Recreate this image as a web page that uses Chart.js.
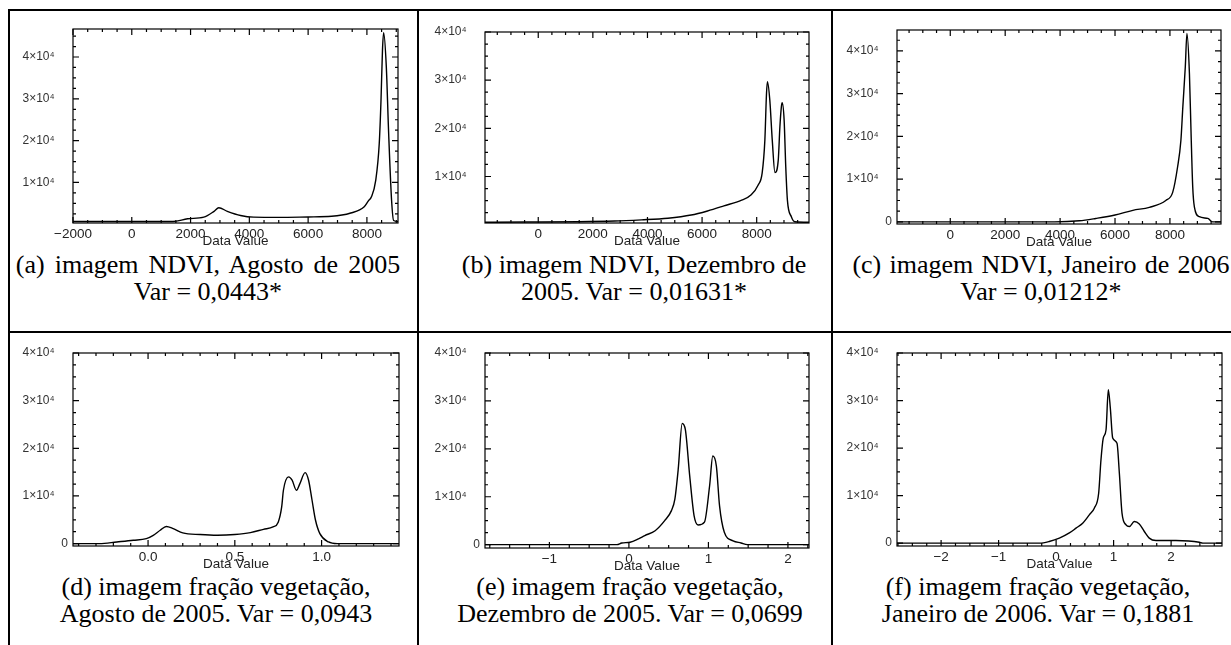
<!DOCTYPE html>
<html>
<head>
<meta charset="utf-8">
<script src="https://cdn.jsdelivr.net/npm/chart.js@4.4.1/dist/chart.umd.min.js"></script>
<style>
  html, body { margin: 0; padding: 0; background: #fff; }
  body { position: relative; width: 1231px; height: 645px; overflow: hidden; }
  .rule { position: absolute; background: #000; }
  canvas { position: absolute; }
  .cap {
    position: absolute; width: 440px; text-align: center; white-space: nowrap;
    font-family: "Liberation Serif", "Times New Roman", serif;
    font-size: 26px; line-height: 27px; color: #000;
  }
</style>
</head>
<body>
<div class="rule" style="left:8px;top:9px;width:2px;height:636px"></div>
<div class="rule" style="left:8px;top:9px;width:1223px;height:2px"></div>
<div class="rule" style="left:417px;top:9px;width:2px;height:636px"></div>
<div class="rule" style="left:831px;top:9px;width:2px;height:636px"></div>
<div class="rule" style="left:8px;top:331px;width:1223px;height:2px"></div>

<div class="cap" style="left:-12px;top:251px"><span style="word-spacing:3.5px">(a) imagem NDVI, Agosto de 2005</span><br>Var = 0,0443*</div>
<div class="cap" style="left:414px;top:251px">(b) imagem NDVI, Dezembro de<br>2005. Var = 0,01631*</div>
<div class="cap" style="left:821px;top:251px"><span style="word-spacing:1.8px">(c) imagem NDVI, Janeiro de 2006</span><br>Var = 0,01212*</div>
<div class="cap" style="left:-4px;top:573px">(d) imagem fração vegetação,<br>Agosto de 2005. Var = 0,0943</div>
<div class="cap" style="left:410px;top:573px">(e) imagem fração vegetação,<br>Dezembro de 2005. Var = 0,0699</div>
<div class="cap" style="left:818px;top:573px">(f) imagem fração vegetação,<br>Janeiro de 2006. Var = 0,1881</div>

<script>
// (a) NDVI, agosto 2005
const ndviAgoX = [-2000, 1400, 1900, 2450, 2800, 2960, 3250, 3700, 4150, 5000, 6000, 6800, 7450, 7900, 8050, 8150, 8300, 8420, 8480, 8530, 8570, 8660, 8740, 8840, 8910, 9058];
const ndviAgoY = [650, 650, 1300, 1700, 3100, 3950, 3100, 2100, 1700, 1650, 1750, 1900, 2700, 4100, 5600, 6500, 10500, 19300, 29700, 41700, 45800, 37700, 21700, 5700, 900, 650];

// (b) NDVI, dezembro 2005
const ndviDezX = [-1950, 2800, 3780, 4750, 5600, 6200, 6800, 7450, 7800, 8050, 8200, 8300, 8360, 8395, 8480, 8570, 8670, 8790, 8850, 8905, 8935, 9005, 9065, 9125, 9270, 9400, 9916];
const ndviDezY = [500, 750, 1000, 1350, 2000, 2850, 3900, 5100, 6200, 8200, 10700, 17600, 27300, 29700, 25900, 17600, 10800, 13400, 20300, 24500, 25300, 21700, 12000, 5100, 1650, 600, 500];

// (c) NDVI, janeiro 2006
const ndviJanX = [-1940, 3800, 4700, 5300, 6000, 6650, 7250, 7850, 8100, 8280, 8400, 8470, 8560, 8620, 8710, 8770, 8830, 8890, 9070, 9380, 9560, 9860];
const ndviJanY = [0, 0, 250, 800, 1600, 2700, 3400, 5000, 6900, 12900, 19100, 26900, 36300, 44100, 34700, 20700, 8200, 3500, 1200, 800, 0, 0];

// (d) fração vegetação, agosto 2005
const vegAgoX = [-0.4325, -0.28, -0.18, -0.085, -0.01, 0.03, 0.07, 0.105, 0.145, 0.2, 0.3, 0.4, 0.5, 0.59, 0.665, 0.72, 0.75, 0.77, 0.78, 0.81, 0.83, 0.855, 0.875, 0.905, 0.925, 0.945, 0.965, 0.99, 1.04, 1.09, 1.446];
const vegAgoY = [0, 0, 350, 700, 1050, 1750, 2800, 3600, 3150, 2250, 1900, 1750, 1900, 2300, 3000, 3500, 4500, 7700, 11200, 14000, 13300, 11200, 12600, 14900, 13300, 9100, 4900, 2100, 350, 0, 0];

// (e) fração vegetação, dezembro 2005
const vegDezX = [-1.81, -0.15, -0.09, 0.015, 0.12, 0.2, 0.33, 0.45, 0.535, 0.578, 0.62, 0.67, 0.71, 0.765, 0.82, 0.87, 0.95, 1.015, 1.055, 1.1, 1.14, 1.2, 1.31, 1.41, 1.49, 2.265];
const vegDezY = [0, 0, 350, 500, 1200, 1900, 2900, 5000, 7100, 9500, 15700, 25300, 24000, 14300, 6000, 4100, 4700, 12300, 18500, 16400, 8100, 2600, 800, 350, 0, 0];

// (f) fração vegetação, janeiro 2006
const vegJanX = [-2.767, -0.29, -0.12, 0.056, 0.23, 0.346, 0.462, 0.577, 0.664, 0.74, 0.78, 0.82, 0.868, 0.908, 0.943, 0.984, 1.059, 1.1, 1.146, 1.216, 1.273, 1.36, 1.447, 1.534, 1.62, 1.737, 2.085, 2.49, 2.55, 2.885];
const vegJanY = [0, 0, 350, 1050, 2150, 3150, 4200, 5950, 7350, 10500, 17500, 22100, 23800, 32300, 28400, 22100, 21000, 14700, 6300, 3850, 3500, 4550, 4050, 2450, 1050, 550, 550, 200, 0, 0];

// tick labels
const ndviTicks = [-2000, 0, 2000, 4000, 6000, 8000];
const vegAgoTicks = [0, 0.5, 1];
const vegTicks = [-2, -1, 0, 1, 2];
const countTicks = [0, 10000, 20000, 30000, 40000];

const minus = v => (v < 0 ? '\u2212' + Math.abs(v) : String(v));
const fixed1 = v => v.toFixed(1);
const yLabel = v => (v === 0 ? '0' : v / 10000 + '\u00d710\u2074    ');

// IDL style box with minor ticks on all four sides
const frame = {
  id: 'frame',
  afterDraw(chart, args, opts) {
    const { ctx, chartArea: a, scales: { x, y } } = chart;
    ctx.save();
    ctx.strokeStyle = '#000';
    ctx.lineWidth = 1.2;
    ctx.strokeRect(a.left, a.top, a.right - a.left, a.bottom - a.top);
    ctx.beginPath();
    const marks = (scale, step, len, horiz) => {
      for (let i = Math.ceil(scale.min / step - 1e-6); i * step <= scale.max + 1e-9; i++) {
        const p = scale.getPixelForValue(i * step);
        if (horiz) {
          ctx.moveTo(p, a.bottom); ctx.lineTo(p, a.bottom - len);
          ctx.moveTo(p, a.top); ctx.lineTo(p, a.top + len);
        } else {
          ctx.moveTo(a.left, p); ctx.lineTo(a.left + len, p);
          ctx.moveTo(a.right, p); ctx.lineTo(a.right - len, p);
        }
      }
    };
    marks(x, opts.xMinor, 3, true);
    marks(x, opts.xStep, 6, true);
    marks(y, 2500, 3, false);
    marks(y, 10000, 6, false);
    ctx.stroke();
    ctx.restore();
  }
};

const tickFont = { family: 'Liberation Sans', size: 13.5 };

function panel(p) {
  const c = document.createElement('canvas');
  c.width = p.cw;
  c.height = p.ch;
  c.style.left = p.cx + 'px';
  c.style.top = p.cy + 'px';
  document.body.appendChild(c);
  const yTicks = countTicks.filter(v => v >= p.yMin && v <= p.yMax);
  return new Chart(c, {
    type: 'line',
    data: {
      datasets: [{
        data: p.xs.map((x, i) => ({ x, y: p.ys[i] })),
        borderColor: '#000',
        borderWidth: 1.4,
        pointRadius: 0,
        fill: false,
        cubicInterpolationMode: 'monotone'
      }]
    },
    options: {
      responsive: false,
      animation: false,
      devicePixelRatio: 1,
      layout: {
        autoPadding: false,
        padding: { left: 0, top: p.T - p.cy, right: p.cx + p.cw - p.R, bottom: p.cy + p.ch - p.B - 25 }
      },
      plugins: {
        legend: { display: false },
        tooltip: { enabled: false },
        frame: { xStep: p.xStep, xMinor: p.xMinor }
      },
      scales: {
        x: {
          type: 'linear',
          min: p.xMin,
          max: p.xMax,
          grid: { display: false, drawTicks: false },
          border: { display: false },
          afterBuildTicks: s => { s.ticks = p.xTicks.map(v => ({ value: v })); },
          afterFit: s => { s.height = 25; },
          ticks: { padding: 3, color: '#222', font: tickFont, callback: p.xFmt, maxRotation: 0, autoSkip: false },
          title: {
            display: true, text: 'Data Value', color: '#222', padding: 0,
            font: { family: 'Liberation Sans', size: 13.5, lineHeight: 1 }
          }
        },
        y: {
          min: p.yMin,
          max: p.yMax,
          grid: { display: false, drawTicks: false },
          border: { display: false },
          afterBuildTicks: s => { s.ticks = yTicks.map(v => ({ value: v })); },
          afterFit: s => { s.width = p.L - p.cx; },
          ticks: { padding: 5, color: '#333', font: { family: 'Liberation Sans', size: 12 }, callback: yLabel, autoSkip: false }
        }
      }
    },
    plugins: [frame]
  });
}

panel({ cx: 11, cy: 12, cw: 400, ch: 240, L: 73, R: 398, T: 29, B: 223,
  xs: ndviAgoX, ys: ndviAgoY, xMin: -2000, xMax: 9058, yMin: 300, yMax: 46700,
  xTicks: ndviTicks, xStep: 2000, xMinor: 500, xFmt: minus });
panel({ cx: 420, cy: 12, cw: 405, ch: 240, L: 485, R: 809, T: 32, B: 223,
  xs: ndviDezX, ys: ndviDezY, xMin: -1950, xMax: 9916, yMin: 350, yMax: 40000,
  xTicks: ndviTicks.slice(1), xStep: 2000, xMinor: 500, xFmt: minus });
panel({ cx: 834, cy: 12, cw: 397, ch: 240, L: 897, R: 1221, T: 30, B: 224,
  xs: ndviJanX, ys: ndviJanY, xMin: -1940, xMax: 9860, yMin: -500, yMax: 44900,
  xTicks: ndviTicks.slice(1), xStep: 2000, xMinor: 500, xFmt: minus });
panel({ cx: 11, cy: 334, cw: 400, ch: 240, L: 73, R: 399, T: 353, B: 546,
  xs: vegAgoX, ys: vegAgoY, xMin: -0.4325, xMax: 1.446, yMin: -500, yMax: 40000,
  xTicks: vegAgoTicks, xStep: 0.5, xMinor: 0.1, xFmt: fixed1 });
panel({ cx: 420, cy: 334, cw: 405, ch: 240, L: 485, R: 809, T: 353, B: 548,
  xs: vegDezX, ys: vegDezY, xMin: -1.81, xMax: 2.265, yMin: -700, yMax: 40000,
  xTicks: vegTicks.slice(1), xStep: 1, xMinor: 0.25, xFmt: minus });
panel({ cx: 834, cy: 334, cw: 397, ch: 240, L: 897, R: 1222, T: 353, B: 546,
  xs: vegJanX, ys: vegJanY, xMin: -2.767, xMax: 2.885, yMin: -600, yMax: 40000,
  xTicks: vegTicks, xStep: 1, xMinor: 0.25, xFmt: minus });
</script>
</body>
</html>
